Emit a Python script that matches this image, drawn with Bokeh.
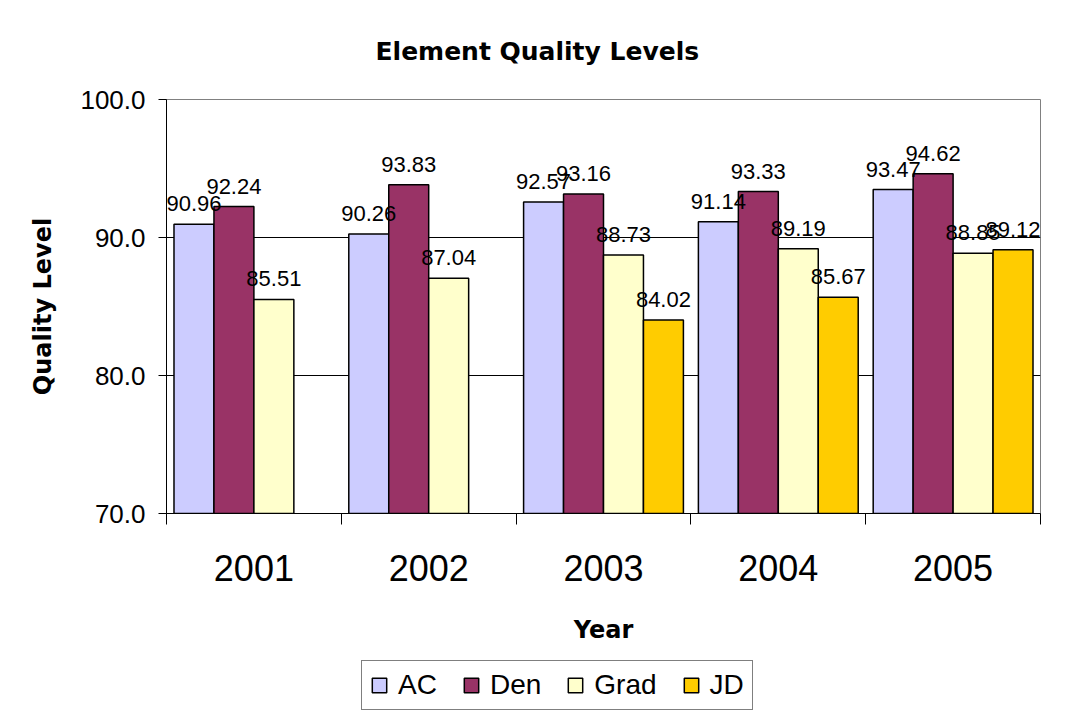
from bokeh.plotting import figure
from bokeh.models import Range1d, FixedTicker, ColumnDataSource, LabelSet, Title, NumeralTickFormatter, Legend
from bokeh.layouts import column
from bokeh.core.properties import value
from bokeh.embed import file_html
from bokeh.resources import INLINE

years = ["2001", "2002", "2003", "2004", "2005"]
series = ["AC", "Den", "Grad", "JD"]
ac = [90.96, 90.26, 92.57, 91.14, 93.47]
den = [92.24, 93.83, 93.16, 93.33, 94.62]
grad = [85.51, 87.04, 88.73, 89.19, 88.85]
jd = [None, None, 84.02, 85.67, 89.12]
colors = ["#CCCCFF", "#993366", "#FFFFCC", "#FFCC00"]
y_ticks = [70, 80, 90, 100]

p = figure(width=1058, height=659, x_range=Range1d(0, 5), y_range=Range1d(70, 100),
           output_backend="svg", toolbar_location=None,
           min_border_left=166, min_border_right=18, min_border_top=99, min_border_bottom=146)
p.background_fill_color = "white"
p.border_fill_color = "white"
p.outline_line_color = "#808080"
p.outline_line_width = 1

group_w = 160 / 175
bar_w = group_w / 4
pad = (1 - group_w) / 2

for k, (name, vals, col) in enumerate(zip(series, [ac, den, grad, jd], colors)):
    xs = [i + pad + bar_w * (k + 0.5) for i, v in enumerate(vals) if v is not None]
    ys = [v for v in vals if v is not None]
    src = ColumnDataSource(dict(x=xs, top=ys, lab=["%g" % v for v in ys]))
    p.vbar(x="x", top="top", bottom=70, width=bar_w, source=src, fill_color=col,
           line_color="black", line_width=1.5)
    p.add_layout(LabelSet(x="x", y="top", text="lab", source=src, text_align="center",
                          text_baseline="alphabetic", y_offset=13,
                          text_font=value("Liberation Sans"), text_font_size=value("22px"),
                          text_color="black"))

# grid
p.xgrid.visible = False
p.ygrid.ticker = FixedTicker(ticks=[80, 90])
p.ygrid.grid_line_color = "black"
p.ygrid.grid_line_width = 1

# y axis
p.yaxis.ticker = FixedTicker(ticks=y_ticks)
p.yaxis.formatter = NumeralTickFormatter(format="0.0")
p.yaxis.major_tick_out = 8
p.yaxis.major_tick_in = 0
p.yaxis.minor_tick_out = 0
p.yaxis.minor_tick_in = 0
p.yaxis.axis_line_color = "black"
p.yaxis.major_tick_line_color = "black"
p.yaxis.major_label_text_font = "Liberation Sans"
p.yaxis.major_label_text_font_size = "26px"
p.yaxis.major_label_text_color = "black"
p.yaxis.major_label_standoff = 13
p.yaxis.axis_label = "Quality Level"
p.yaxis.axis_label_text_font = "DejaVu Sans"
p.yaxis.axis_label_text_font_style = "bold"
p.yaxis.axis_label_text_font_size = "24px"
p.yaxis.axis_label_text_color = "black"
p.yaxis.axis_label_standoff = 20

# x axis
p.xaxis.ticker = FixedTicker(ticks=[i + 0.5 for i in range(len(years))],
                             minor_ticks=list(range(len(years) + 1)))
p.xaxis.major_label_overrides = {i + 0.5: y for i, y in enumerate(years)}
p.xaxis.major_tick_out = 0
p.xaxis.major_tick_in = 0
p.xaxis.minor_tick_out = 11
p.xaxis.minor_tick_in = 0
p.xaxis.minor_tick_line_color = "black"
p.xaxis.axis_line_color = "black"
p.xaxis.major_label_text_font = "Liberation Sans"
p.xaxis.major_label_text_font_size = "36px"
p.xaxis.major_label_text_color = "black"
p.xaxis.major_label_standoff = 30
p.xaxis.axis_label = "Year"
p.xaxis.axis_label_text_font = "DejaVu Sans"
p.xaxis.axis_label_text_font_style = "bold"
p.xaxis.axis_label_text_font_size = "24px"
p.xaxis.axis_label_text_color = "black"
p.xaxis.axis_label_standoff = 32

# title
p.add_layout(Title(text="Element Quality Levels", align="left", offset=209,
                   text_font="DejaVu Sans", text_font_style="bold",
                   text_font_size="25px", text_color="black", standoff=67), "above")

# legend strip below the chart
q = figure(width=1058, height=52, x_range=Range1d(0, 1), y_range=Range1d(0, 1),
           output_backend="svg", toolbar_location=None, min_border=0)
q.axis.visible = False
q.grid.visible = False
q.outline_line_color = None
q.background_fill_color = "white"
q.border_fill_color = "white"
items = []
nan = float("nan")
for name, col in zip(series, colors):
    r = q.vbar(x=[nan], top=[nan], bottom=nan, width=0.1, fill_color=col,
               line_color="black", line_width=1.5)
    items.append((name, [r]))
lg = Legend(items=items, orientation="horizontal", location=(195, 1))
lg.label_text_font = "Liberation Sans"
lg.label_text_font_size = "28px"
lg.label_text_color = "black"
lg.glyph_width = 18
lg.glyph_height = 18
lg.label_standoff = 10
lg.spacing = 25
lg.padding = 8
lg.margin = 0
lg.border_line_color = "black"
lg.border_line_width = 1
lg.background_fill_color = "white"
lg.background_fill_alpha = 1
q.add_layout(lg, "center")

layout = column(p, q, spacing=0)
open("out.html", "w").write(file_html(layout, INLINE))
